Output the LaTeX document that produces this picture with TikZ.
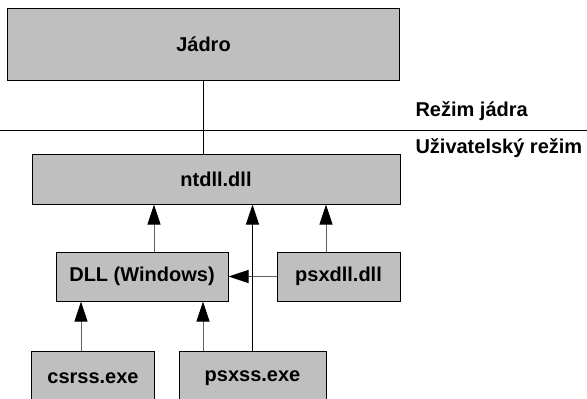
\documentclass[tikz,border=0pt]{standalone}
\usepackage{fontspec}
\setmainfont{Liberation Sans}
\usetikzlibrary{arrows.meta}

\begin{document}
\begin{tikzpicture}[x=1pt,y=-1pt,>={Triangle[length=20pt,width=13pt,black]},
    line width=1pt, font=\fontsize{20}{24}\selectfont\bfseries]

    \tikzstyle{block}=[fill=black!25,draw=black,text=black,inner sep=0pt]
    \tikzstyle{link}=[->,draw=black!62]

    \useasboundingbox (0,0) rectangle (587,399);
    \clip (0,0) rectangle (587,399);

    \node[block, minimum width=392pt, minimum height=72pt] (kernel) at (203.5,44)  {Jádro};
    \node[block, minimum width=368pt, minimum height=50pt] (ntdll)  at (216,179)   {ntdll.dll};
    \node[block, minimum width=172pt, minimum height=49pt] (windll) at (142,276.5) {DLL (Windows)};
    \node[block, minimum width=123pt, minimum height=49pt] (psxdll) at (338.5,276.5) {psxdll.dll};
    \node[block, minimum width=123pt, minimum height=54pt] (csrss)  at (93,378)    {csrss.exe};
    \node[block, minimum width=147pt, minimum height=54pt] (psxss)  at (252.5,378) {psxss.exe};

    % boundary between the two modes
    \coordinate (bl) at (0,130);
    \coordinate (br) at (587,130);
    \draw (bl) -- (br);
    \node[anchor=south west, inner sep=0pt] (kmode) at (415,121) {Režim jádra};
    \node[anchor=north west, inner sep=0pt] (umode) at (415,138) {Uživatelský režim};

    \draw (kernel.south) -- (kernel.south |- ntdll.north);
    \draw ([xshift=12pt]windll.north) edge[link] ([xshift=12pt]windll.north |- ntdll.south);
    \draw ([xshift=-12.5pt]psxdll.north) edge[link] ([xshift=-12.5pt]psxdll.north |- ntdll.south);
    \draw (psxdll.west) edge[link] (windll.east);
    \draw ([xshift=-12pt]csrss.north) edge[link] ([xshift=-12pt]csrss.north |- windll.south);
    \draw ([xshift=-49.5pt]psxss.north) edge[link] ([xshift=-49.5pt]psxss.north |- windll.south);
    \draw[->] (psxss.north) -- (psxss.north |- ntdll.south);
\end{tikzpicture}
\end{document}
